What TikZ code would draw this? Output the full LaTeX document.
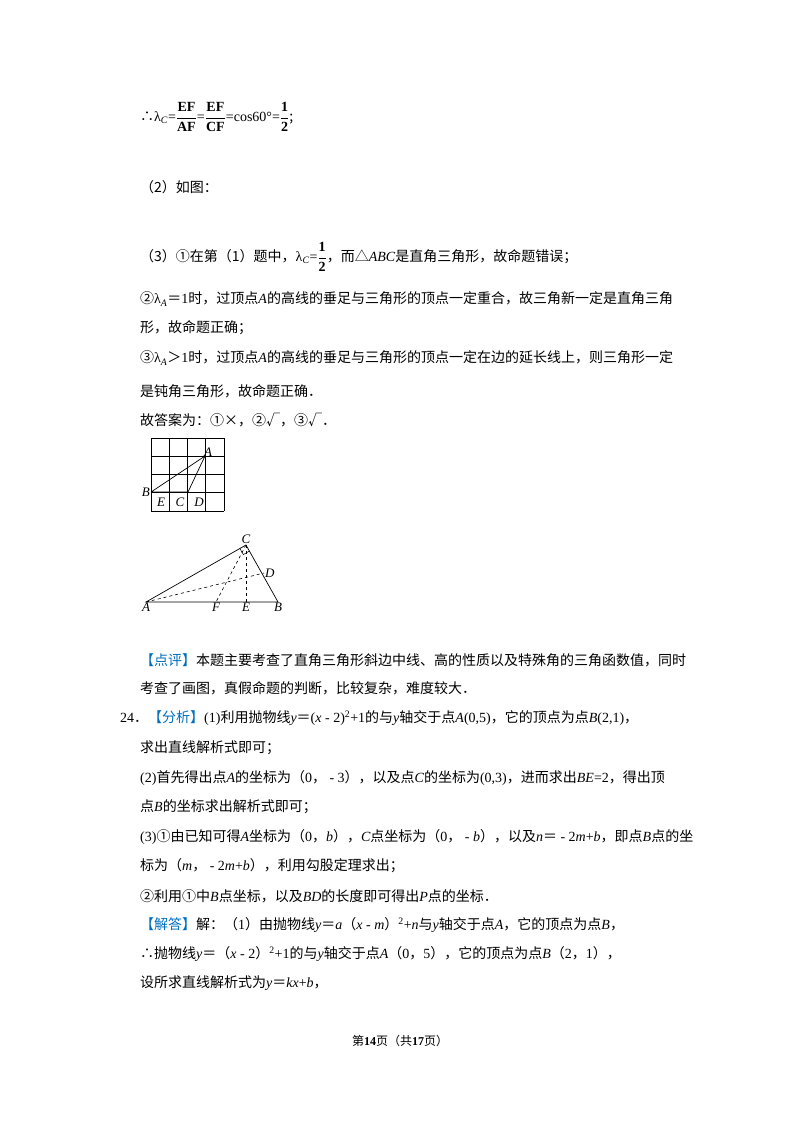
\documentclass[tikz,border=0pt]{standalone}
\usepackage{amsmath}
\usepackage{fontspec}
\usetikzlibrary{calc}
\setmainfont{Liberation Serif}
\newfontfamily\cjk{Noto Sans CJK SC}
\newcommand\vv[1]{{\rmfamily\itshape #1}}
\newcommand\rr[1]{{\rmfamily #1}}
\newcommand\eq{{\cjk ＝}}
\definecolor{hl}{RGB}{0,112,192}
\newcommand\hb[1]{{\color{hl}#1}}
\begin{document}
\begin{tikzpicture}[x=1pt,y=-1pt,
  ln/.style={anchor=west,inner sep=0pt,font=\cjk\fontsize{14}{14}\selectfont},
  lab/.style={font=\rmfamily\itshape\fontsize{13}{13}\selectfont,inner sep=1pt},
  fig/.style={line width=0.7pt},
  dsh/.style={line width=0.6pt,dashed}]
\useasboundingbox (0,0) rectangle (800,1132);
\fill[white] (0,0) rectangle (800,1132);
\node[ln] (l1) at (140,117) {∴\rr{λ}\textsubscript{\vv{C}}\rr{=}$\dfrac{\mathbf{EF}}{\mathbf{AF}}$\rr{=}$\dfrac{\mathbf{EF}}{\mathbf{CF}}$\rr{=cos60°=}$\dfrac{\mathbf{1}}{\mathbf{2}}$;};
\node[ln] (l2) at (140,187) {（2）如图：};
\node[ln] (l3) at (140,257) {（3）①在第（1）题中，\rr{λ}\textsubscript{\vv{C}}\rr{=}$\dfrac{\mathbf{1}}{\mathbf{2}}$，而△\vv{ABC}是直角三角形，故命题错误；};
\node[ln] (l4) at (140,299) {②\rr{λ}\textsubscript{\vv{A}}＝\rr{1}时，过顶点\vv{A}的高线的垂足与三角形的顶点一定重合，故三角新一定是直角三角};
\node[ln] (l5) at (140,328) {形，故命题正确；};
\node[ln] (l6) at (140,358) {③\rr{λ}\textsubscript{\vv{A}}＞\rr{1}时，过顶点\vv{A}的高线的垂足与三角形的顶点一定在边的延长线上，则三角形一定};
\node[ln] (l7) at (140,391) {是钝角三角形，故命题正确．};
\node[ln] (l8) at (140,420) {故答案为：①×，②√，③√．};
% grid figure
\foreach \i in {0,...,4} {
  \draw[line width=0.8pt] (151+18.25*\i,438) -- (151+18.25*\i,511);
  \draw[line width=0.8pt] (151,438+18.25*\i) -- (224,438+18.25*\i);
}
\coordinate (gA) at (205,456);
\coordinate (gB) at (151,492);
\coordinate (gC) at (188,492);
\draw[fig] (gB) -- (gA) -- (gC) -- (gB);
\node[lab,anchor=south west] (tA) at (203,458) {A};
\node[lab,anchor=east] (tB) at (151,492) {B};
\node[lab] (tE) at (161,502) {E};
\node[lab] (tC) at (180,502) {C};
\node[lab] (tD) at (199,502) {D};
% triangle
\coordinate (A) at (146,602);
\coordinate (B) at (278,602);
\coordinate (C) at (246,545);
\coordinate (D) at (264,573);
\coordinate (E) at (246,602);
\coordinate (F) at (216,602);
\draw[fig] (A) -- (B) -- (C) -- cycle;
\draw[dsh] (A) -- (D);
\draw[dsh] (C) -- (F);
\draw[dsh] (C) -- (E);
\draw[line width=0.5pt] ($(C)!7pt!(A)$) -- ($(C)!7pt!(A)+(C)!7pt!(B)-(C)$) -- ($(C)!7pt!(B)$);
\node[lab,anchor=south] at (C) {C};
\node[lab,anchor=west] at (D) {D};
\node[lab,anchor=north] at (A) {A};
\node[lab,anchor=north] at (B) {B};
\node[lab,anchor=north] at (E) {E};
\node[lab,anchor=north] at (F) {F};
% text continued
\node[ln] (l9) at (140,660) {\hb{【点评】}本题主要考查了直角三角形斜边中线、高的性质以及特殊角的三角函数值，同时};
\node[ln] (l10) at (140,688) {考查了画图，真假命题的判断，比较复杂，难度较大．};
\node[ln] (l11) at (120,718) {\rr{24}．\hb{【分析】}\rr{(1)}利用抛物线\vv{y}＝\rr{(}\vv{x}\rr{ - 2)}\textsuperscript{\rr{2}}\rr{+1}的与\vv{y}轴交于点\vv{A}\rr{(0,5)}，它的顶点为点\vv{B}\rr{(2,1)}，};
\node[ln] (l12) at (140,748) {求出直线解析式即可；};
\node[ln] (l13) at (140,778) {\rr{(2)}首先得出点\vv{A}的坐标为（\rr{0}，\rr{ - 3}），以及点\vv{C}的坐标为\rr{(0,3)}，进而求出\vv{BE}\rr{=2}，得出顶};
\node[ln] (l14) at (140,807) {点\vv{B}的坐标求出解析式即可；};
\node[ln] (l15) at (140,837) {\rr{(3)}①由已知可得\vv{A}坐标为（\rr{0}，\vv{b}），\vv{C}点坐标为（\rr{0}，\rr{ - }\vv{b}），以及\vv{n}＝\rr{ - 2}\vv{m}\rr{+}\vv{b}，即点\vv{B}点的坐};
\node[ln] (l16) at (140,866) {标为（\vv{m}，\rr{ - 2}\vv{m}\rr{+}\vv{b}），利用勾股定理求出；};
\node[ln] (l17) at (140,896) {②利用①中\vv{B}点坐标，以及\vv{BD}的长度即可得出\vv{P}点的坐标．};
\node[ln] (l18) at (140,925) {\hb{【解答】}解：（\rr{1}）由抛物线\vv{y}＝\vv{a}（\vv{x}\rr{ - }\vv{m}）\textsuperscript{\rr{2}}\rr{+}\vv{n}与\vv{y}轴交于点\vv{A}，它的顶点为点\vv{B}，};
\node[ln] (l19) at (140,954) {∴抛物线\vv{y}＝（\vv{x}\rr{ - 2}）\textsuperscript{\rr{2}}\rr{+1}的与\vv{y}轴交于点\vv{A}（\rr{0}，\rr{5}），它的顶点为点\vv{B}（\rr{2}，\rr{1}），};
\node[ln] (l20) at (140,983) {设所求直线解析式为\vv{y}＝\vv{kx}\rr{+}\vv{b}，};
\node[ln,anchor=center,font=\cjk\fontsize{12}{12}\selectfont] (ft) at (400,1041) {第\textbf{\rr{14}}页（共\textbf{\rr{17}}页）};
\end{tikzpicture}
\end{document}
